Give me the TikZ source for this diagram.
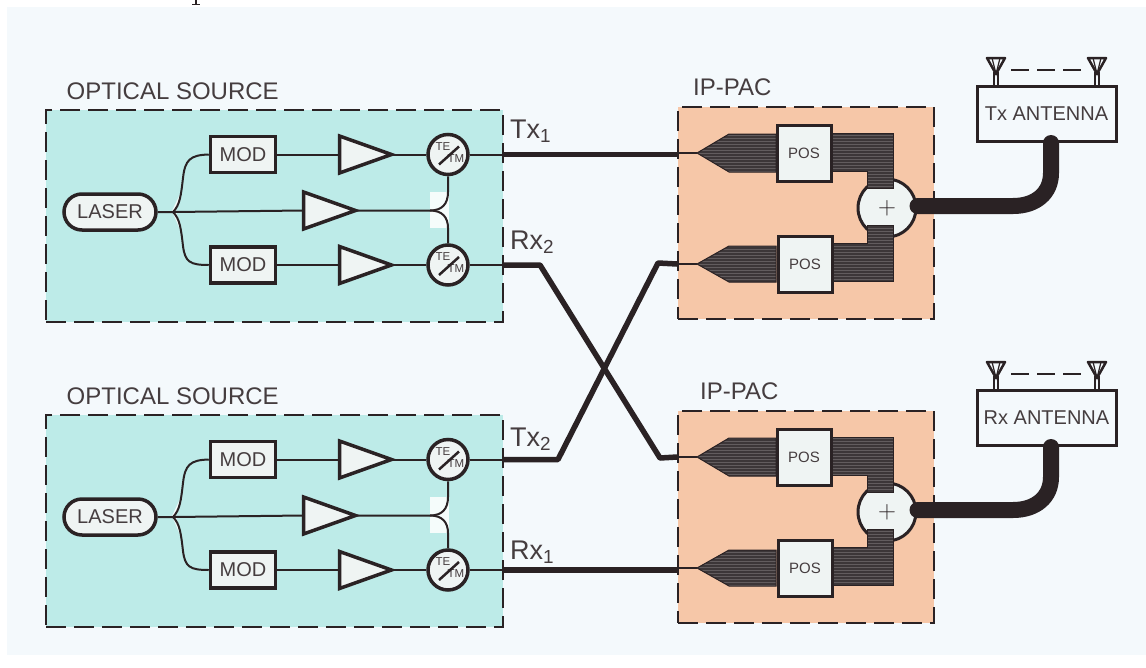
\documentclass[tikz,border=0pt]{standalone}
\usepackage{fontspec}
\setmainfont{Liberation Sans}
\usetikzlibrary{shapes, shapes.geometric, patterns, arrows.meta, positioning}

\definecolor{paper}{HTML}{F4F9FC}
\definecolor{ink}{HTML}{2A2224}
\definecolor{textink}{HTML}{453D3F}
\definecolor{cyanzone}{HTML}{BDEBE8}
\definecolor{orangezone}{HTML}{F6C7A8}
\definecolor{partfill}{HTML}{EFF4F3}
\definecolor{stripdark}{HTML}{3C3638}
\definecolor{stripline}{HTML}{625C5E}

\tikzset{
    zone/.style={draw=ink, line width=1.8pt, dash pattern=on 20pt off 8pt, inner sep=0pt},
    modbox/.style={draw=ink, line width=3.5pt, fill=partfill, minimum width=65pt, minimum height=36pt, inner sep=0pt, text=textink, font=\fontsize{20}{20}\selectfont},
    posbox/.style={draw=ink, line width=3pt, fill=partfill, minimum width=54pt, minimum height=56pt, inner sep=0pt, text=textink, font=\fontsize{15}{15}\selectfont},
    laserbox/.style={draw=ink, line width=3.5pt, fill=partfill, rounded rectangle, minimum width=92pt, minimum height=36pt, inner sep=0pt, text=textink, font=\fontsize{20}{20}\selectfont},
    amp/.style={draw=ink, line width=3.5pt, fill=partfill, isosceles triangle, isosceles triangle stretches, minimum width=37pt, minimum height=52pt, inner sep=0pt, outer sep=0pt, anchor=lower side},
    polring/.style={draw=ink, line width=3.5pt, fill=partfill, circle, minimum size=40pt, inner sep=0pt},
    polmark/.style={text=textink, inner sep=0pt, font=\fontsize{11.5}{11.5}\selectfont},
    sumring/.style={draw=ink, line width=3pt, fill=partfill, circle, minimum size=58pt, inner sep=0pt, text=ink, font=\fontsize{30}{30}\selectfont},
    antbox/.style={draw=ink, line width=3pt, fill=paper, minimum width=139pt, minimum height=55pt, inner sep=0pt, text=textink, font=\fontsize{20}{20}\selectfont},
    title/.style={text=textink, inner sep=0pt, anchor=base west, font=\fontsize{24}{24}\selectfont},
    portname/.style={text=textink, inner sep=0pt, anchor=base west, font=\fontsize{27}{27}\selectfont},
    fibre/.style={draw=ink, line width=2pt},
    link/.style={draw=ink, line width=5.5pt, line join=round},
    strip/.style={draw=ink, line width=1pt, preaction={fill=stripdark}, pattern=horizontal lines, pattern color=stripline},
    feed/.style={draw=ink, line width=16pt, line cap=round},
}

% un mat d'antenne
\newcommand{\aerial}[2]{
    \fill[ink] (#1,#2) ++(-3,14) rectangle ++(6,13);
    \fill[paper] (#1,#2) ++(-0.8,15) rectangle ++(1.6,12);
    \draw[draw=ink, line width=2.5pt, fill=paper, line join=round] (#1,#2) ++(-9,0) -- ++(18,0) -- ++(-9,16) -- cycle;
    \draw[draw=ink, line width=1.2pt] (#1,#2) ++(-4,0) -- ++(4,16) -- ++(4,-16);
}

\begin{document}
\begin{tikzpicture}[x=1pt, y=-1pt]
    \useasboundingbox (0,0) rectangle (1146,667);
    \fill[white] (0,0) rectangle (1146,667);
    \fill[paper] (7,7) rectangle (1146,655);
    % Le reste du mot coupe en haut
    \fill[ink] (195,0) rectangle (197,4);
    \fill[ink] (192,4) rectangle (200,5.2);

    % Les deux sources optiques
    \foreach \n/\dy in {1/0, 2/305} {
        \begin{scope}[shift={(0,\dy)}]
            \node[zone, fill=cyanzone, minimum width=457pt, minimum height=212pt] (src\n) at (274.5,216) {};
            \node[title] (srclabel\n) at (66.5,99) {OPTICAL SOURCE};

            \node[laserbox] (laser\n) at (110,212) {LASER};
            \node[modbox] (moda\n) at (243,154.5) {MOD};
            \node[modbox] (modb\n) at (243,265) {MOD};
            \node[amp] (ampa\n) at (339.5,154.5) {};
            \node[amp] (ampm\n) at (303.5,210.5) {};
            \node[amp] (ampb\n) at (339.5,265) {};

            % Le coude blanc
            \fill[white!85!cyanzone] (430,192) rectangle (449,228);
            \fill[white!85!cyanzone] (172,211) -- (181,192) -- (176,211) -- (181,232) -- cycle;

            \node[polring] (pola\n) at (448,154.5) {};
            \node[polring] (polb\n) at (448,265) {};
            \foreach \p in {a,b} {
                \node[polmark] (te\p\n) at ([shift={(-5,-8)}]pol\p\n.center) {TE};
                \node[polmark] (tm\p\n) at ([shift={(8,4)}]pol\p\n.center) {TM};
                \draw[draw=ink, line width=2.5pt] ([shift={(-9,10)}]pol\p\n.center) -- ([shift={(11,-8)}]pol\p\n.center);
            }

            % Les fibres
            \coordinate (split\n) at (173,212);
            \draw[fibre] (laser\n.east) -- (split\n) -- (ampm\n.lower side);
            \draw[fibre] (split\n) .. controls (180,205) and (181,195) .. (183,178) .. controls (185,160) and (190,155) .. (moda\n.west);
            \draw[fibre] (split\n) .. controls (180,219) and (181,229) .. (183,246) .. controls (185,262) and (190,265) .. (modb\n.west);
            \draw[fibre] (moda\n.east) -- (ampa\n.lower side);
            \draw[fibre] (modb\n.east) -- (ampb\n.lower side);
            \draw[fibre] (ampa\n.apex) -- (pola\n.west);
            \draw[fibre] (ampb\n.apex) -- (polb\n.west);
            \draw[fibre] (ampm\n.apex) -- (430,210.5) .. controls (442,210.5) and (448,204) .. (448,192) -- (pola\n.south);
            \draw[fibre] (430,210.5) .. controls (442,210.5) and (448,217) .. (448,228) -- (polb\n.north);
            \coordinate (outa\n) at (503,154.5);
            \coordinate (outb\n) at (503,265);
            \draw[fibre] (pola\n.east) -- (outa\n);
            \draw[fibre] (polb\n.east) -- (outb\n);
        \end{scope}
    }

    % Les deux blocs IP-PAC
    \foreach \n/\lx/\dy in {1/693/0, 2/700/304} {
        \begin{scope}[shift={(0,\dy)}]
            \node[zone, fill=orangezone, minimum width=256pt, minimum height=212pt] (pac\n) at (806,213) {};
            \node[title] (paclabel\n) at (\lx,95) {IP-PAC};

            \node[sumring] (sum\n) at (887,208) {$+$};

            \coordinate (tipa\n) at (697,153);
            \coordinate (tipb\n) at (697,264);
            \draw[strip] (tipa\n) -- (729,134) -- (776,134) -- (776,172) -- (729,172) -- cycle;
            \draw[strip] (832,133) -- (893,133) -- (893,188) -- (867,188) -- (867,171) -- (832,171) -- cycle;
            \draw[strip] (tipb\n) -- (729,246) -- (776,246) -- (776,282) -- (729,282) -- cycle;
            \draw[strip] (832,243) -- (867,243) -- (867,225) -- (893,225) -- (893,281) -- (832,281) -- cycle;

            \node[posbox] (posa\n) at (804,153) {POS};
            \node[posbox] (posb\n) at (805,264) {POS};

            \coordinate (ina\n) at (pac\n.west |- tipa\n);
            \coordinate (inb\n) at (pac\n.west |- tipb\n);
            \draw[fibre] (ina\n) -- (tipa\n);
            \draw[fibre] (inb\n) -- (tipb\n);
        \end{scope}
    }

    % Les liaisons entre les blocs
    \draw[link] (outa1) -- (outa1 -| ina1);
    \draw[link] (outb1) -- (540,265) -- (660,458) -- (ina2);
    \draw[link] (outa2) -- (558,459.5) -- (658,263) -- (inb1);
    \draw[link] (outb2) -- (outb2 -| inb2);
    \node[portname] (txa) at (510,138) {Tx\textsubscript{1}};
    \node[portname] (rxb) at (510,249) {Rx\textsubscript{2}};
    \node[portname] (txb) at (510,446) {Tx\textsubscript{2}};
    \node[portname] (rxa) at (510,559) {Rx\textsubscript{1}};

    % Les antennes
    \foreach \n/\name/\dy in {1/Tx/0, 2/Rx/304} {
        \begin{scope}[shift={(0,\dy)}]
            \aerial{996}{58}
            \aerial{1097}{58}
            \coordinate (dasha\n) at (1011,70);
            \coordinate (dashb\n) at (1081,70);
            \draw[draw=ink, line width=2pt, dash pattern=on 18pt off 8pt] (dasha\n) -- (dashb\n);
            \node[antbox] (ant\n) at (1046.5,114) {\name\ ANTENNA};
            \draw[feed] ([yshift=2pt]sum\n.east) -- (1013,206) .. controls (1036,206) and (1051,193) .. (1051,173) -- (1051,143);
        \end{scope}
    }
\end{tikzpicture}
\end{document}
